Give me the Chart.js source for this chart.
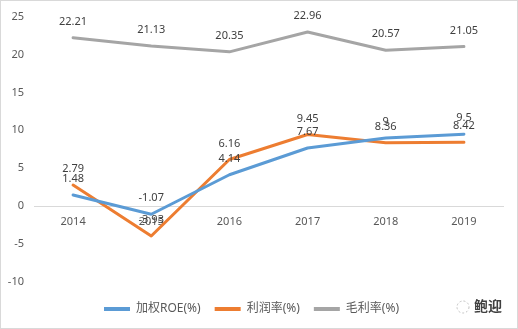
<!DOCTYPE html>
<html>
<head>
<meta charset="utf-8">
<script src="https://cdn.jsdelivr.net/npm/chart.js@4"></script>
<style>
    html, body { margin: 0; padding: 0; background: #fff; }
    canvas { display: block; }
</style>
</head>
<body>
<canvas id="lineChart" width="518" height="329"></canvas>
<script>
// chart data
const years = ['2014', '2015', '2016', '2017', '2018', '2019'];
const roe = [1.48, -1.07, 4.14, 7.67, 9, 9.5];
const profitRate = [2.79, -3.93, 6.16, 9.45, 8.36, 8.42];
const grossRate = [22.21, 21.13, 20.35, 22.96, 20.57, 21.05];
const seriesNames = ['加权ROE(%)', '利润率(%)', '毛利率(%)'];

const FONT = "'Noto Sans', 'Noto Sans CJK SC', sans-serif";

// value labels above each point
const pointLabels = {
    id: 'pointLabels',
    afterDatasetsDraw(chart) {
        const ctx = chart.ctx;
        ctx.save();
        ctx.font = '11px ' + FONT;
        ctx.fillStyle = '#404040';
        ctx.textAlign = 'center';
        ctx.textBaseline = 'middle';
        chart.data.datasets.forEach((ds, i) => {
            chart.getDatasetMeta(i).data.forEach((pt, j) => {
                ctx.fillText(String(ds.data[j]), pt.x, pt.y - 16);
            });
        });
        ctx.restore();
    }
};

// outer frame + watermark
const frame = {
    id: 'frame',
    afterDraw(chart) {
        const ctx = chart.ctx;
        ctx.save();
        ctx.strokeStyle = '#d9d9d9';
        ctx.lineWidth = 1;
        ctx.strokeRect(0.5, 0.5, chart.width - 1, chart.height - 1);

        ctx.setLineDash([2, 2]);
        ctx.strokeStyle = '#bfbfbf';
        ctx.beginPath();
        ctx.arc(463, 307, 6, 0, Math.PI * 2);
        ctx.stroke();
        ctx.setLineDash([]);

        ctx.font = 'bold 14px ' + FONT;
        ctx.fillStyle = '#404040';
        ctx.textAlign = 'left';
        ctx.textBaseline = 'middle';
        ctx.fillText('鲍迎', 474, 307);
        ctx.restore();
    }
};

const lineColors = ['#5B9BD5', '#ED7D31', '#A5A5A5'];

new Chart(document.getElementById('lineChart').getContext('2d'), {
    type: 'line',
    data: {
        labels: years,
        datasets: [roe, profitRate, grossRate].map((values, i) => ({
            label: seriesNames[i],
            data: values,
            borderColor: lineColors[i],
            backgroundColor: lineColors[i],
            borderWidth: 3,
            pointBorderWidth: 4,
            pointBorderColor: lineColors[i]
        }))
    },
    options: {
        responsive: false,
        animation: false,
        devicePixelRatio: 1,
        elements: {
            line: { tension: 0, borderCapStyle: 'round', borderJoinStyle: 'round' },
            point: { radius: 0, hoverRadius: 0 }
        },
        layout: {
            padding: { top: 14, right: 15, bottom: 4, left: 0 }
        },
        plugins: {
            legend: {
                position: 'bottom',
                title: {
                    display: true,
                    text: '',
                    font: { size: 1, lineHeight: 1 },
                    padding: { top: 6, bottom: 0 }
                },
                labels: {
                    usePointStyle: true,
                    pointStyle: 'line',
                    pointStyleWidth: 26,
                    padding: 14,
                    color: '#595959',
                    font: { family: FONT, size: 12 }
                }
            },
            tooltip: { enabled: false }
        },
        scales: {
            x: {
                position: { y: 0 },
                offset: true,
                afterFit: s => { s.height = 0; },
                grid: { display: false, drawTicks: false },
                border: { display: true, color: '#d9d9d9', width: 1 },
                ticks: {
                    padding: 9,
                    color: '#595959',
                    font: { family: FONT, size: 11 }
                }
            },
            y: {
                min: -10,
                max: 25,
                afterFit: s => { s.width = 34; },
                grid: { display: false, drawTicks: false },
                border: { display: false },
                ticks: {
                    stepSize: 5,
                    padding: 10,
                    color: '#595959',
                    font: { family: FONT, size: 11 }
                }
            }
        }
    },
    plugins: [pointLabels, frame]
});
</script>
</body>
</html>
